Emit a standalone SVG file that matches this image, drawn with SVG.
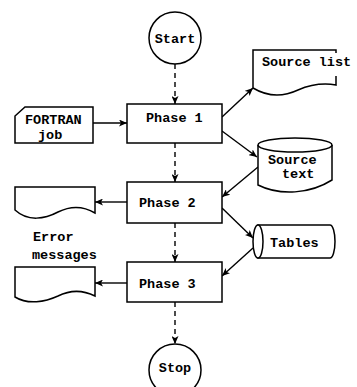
<svg xmlns="http://www.w3.org/2000/svg" width="357" height="387" viewBox="0 0 357 387">
<style>
.s{fill:#fff;stroke:#000;stroke-width:1.5;}
.o{fill:none;stroke:#000;stroke-width:1.5;}
.t{font-family:"Liberation Mono","DejaVu Sans Mono",monospace;font-weight:bold;font-size:13.5px;fill:#000;}
.c{stroke:#000;stroke-width:1.4;fill:none;marker-end:url(#ah);}
.d{stroke-dasharray:5 4;}
</style>
<defs>
<marker id="ah" markerUnits="userSpaceOnUse" markerWidth="9" markerHeight="7" refX="8" refY="3.5" orient="auto">
<path d="M0,0 L8,3.5 L0,7 L2,3.5 Z" fill="#000"/>
</marker>
</defs>
<rect width="357" height="387" fill="#fff"/>
<g id="connectors">
<line class="c d" x1="175" y1="64" x2="175" y2="104"/>
<line class="c d" x1="175" y1="143" x2="175" y2="182"/>
<line class="c d" x1="175" y1="223" x2="175" y2="262"/>
<line class="c d" x1="175" y1="302" x2="175" y2="344"/>
<line class="c" x1="93" y1="123" x2="127" y2="123"/>
<line class="c" x1="222" y1="117" x2="253" y2="88"/>
<line class="c" x1="222" y1="131" x2="257" y2="157"/>
<line class="c" x1="258" y1="167" x2="222" y2="197"/>
<line class="c" x1="222" y1="208" x2="253" y2="238"/>
<line class="c" x1="253" y1="248" x2="222" y2="276"/>
<line class="c" x1="127" y1="202" x2="95" y2="202"/>
<line class="c" x1="127" y1="283" x2="95" y2="283"/>
</g>
<g id="start">
<circle class="s" cx="175" cy="38" r="26"/>
<text class="t" x="175" y="43" text-anchor="middle">Start</text>
</g>
<g id="phase1">
<rect class="s" x="127" y="104" width="95" height="39"/>
<text class="t" x="146" y="122">Phase 1</text>
</g>
<g id="phase2">
<rect class="s" x="127" y="182" width="95" height="41"/>
<text class="t" x="139" y="207">Phase 2</text>
</g>
<g id="phase3">
<rect class="s" x="127" y="262" width="95" height="40"/>
<text class="t" x="139" y="288">Phase 3</text>
</g>
<g id="stop">
<circle class="s" cx="175" cy="370" r="26"/>
<text class="t" x="175" y="372" text-anchor="middle">Stop</text>
</g>
<g id="fortran-job">
<path class="s" d="M25,107 H93 V143 H15 V116 Z"/>
<text class="t" x="25" y="124" font-size="12">FORTRAN</text>
<text class="t" x="38" y="139" font-size="12">job</text>
</g>
<g id="source-list">
<path class="o" d="M253,88 V50 H336 V53"/>
<path class="o" d="M253,88 C268,97 283,97 298,90 C312,84 324,83 336,85 V76"/>
<text class="t" x="262" y="66">Source list</text>
</g>
<g id="source-text">
<path class="s" d="M258,145 V185 C280,196 310,194 332,180 V145"/>
<ellipse class="s" cx="295" cy="145" rx="37" ry="7"/>
<text class="t" x="268" y="164">Source</text>
<text class="t" x="282" y="178">text</text>
</g>
<g id="tables">
<path class="s" d="M258,225 H330 A5,16.5 0 0 1 330,258 H258 Z"/>
<ellipse class="s" cx="258" cy="241.5" rx="5" ry="16.5"/>
<text class="t" x="270" y="247">Tables</text>
</g>
<g id="error-doc-1">
<path class="s" d="M15,187 H95 V213 C85,207 72,205 58,212 C45,219 28,222 15,210 Z"/>
</g>
<g id="error-label">
<text class="t" x="33" y="241">Error</text>
<text class="t" x="32" y="259">messages</text>
</g>
<g id="error-doc-2">
<path class="s" d="M15,267 H95 V296 C85,291 72,289 58,296 C45,302 28,305 15,297 Z"/>
</g>
</svg>
